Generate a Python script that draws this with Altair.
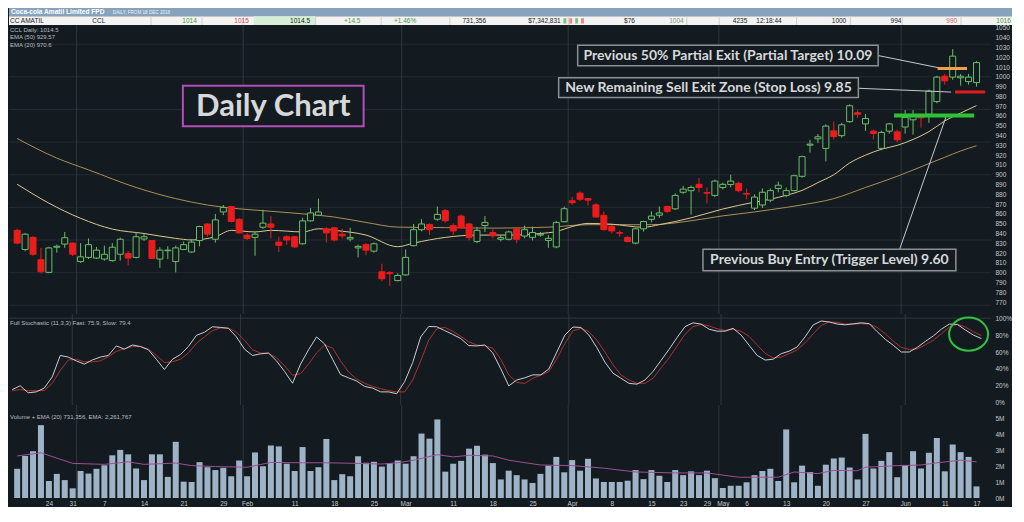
import altair as alt
import numpy as np
import pandas as pd

# ------------------------------------------------------------------
# Values (daily bars 18 Dec 2018 - 17 Jun 2019)
# ------------------------------------------------------------------
opens = [843.2, 823.7, 836.0, 813.3, 800.3, 826.0, 829.2, 830.2, 811.3, 815.6,
         814.9, 813.9, 812.3, 818.8, 819.5, 815.6, 834.4, 832.8, 813.9, 822.4,
         811.3, 823.7, 821.1, 832.8, 849.7, 834.1, 862.0, 867.5, 854.5, 838.3,
         836.0, 846.4, 849.7, 831.2, 836.7, 836.7, 829.5, 852.9, 858.7, 844.8,
         845.8, 839.3, 834.4, 825.3, 828.6, 822.0, 800.9, 800.0, 791.9, 797.7,
         827.6, 843.9, 849.1, 854.6, 863.3, 848.1, 857.8, 849.7, 831.9, 848.1,
         841.0, 834.1, 834.1, 844.8, 837.4, 836.1, 838.4, 832.9, 826.3, 852.0,
         873.4, 881.2, 875.7, 869.2, 858.5, 847.1, 840.9, 836.0, 830.2, 844.8,
         854.5, 858.7, 867.5, 865.2, 882.1, 883.7, 890.2, 881.8, 878.9, 887.0,
         890.0, 891.2, 880.8, 865.9, 869.1, 874.0, 886.0, 878.9, 883.8, 898.4,
         930.2, 936.7, 926.9, 944.8, 939.9, 954.2, 963.3, 951.9, 944.5, 926.9,
         944.5, 943.8, 948.7, 956.1, 959.4, 961.7, 974.7, 1000.6, 999.7, 999.0,
         995.1, 994.1]
highs = [845.0, 840.5, 837.3, 825.3, 826.5, 828.6, 841.5, 830.8, 830.2, 835.0,
         826.3, 827.6, 830.2, 835.7, 822.1, 841.5, 839.9, 833.4, 826.0, 827.0,
         827.6, 831.8, 834.1, 848.0, 850.3, 860.0, 869.1, 868.5, 855.5, 840.6,
         841.5, 864.3, 857.8, 836.7, 838.3, 837.6, 856.2, 865.9, 875.6, 846.4,
         846.4, 844.8, 845.8, 828.6, 830.2, 830.8, 809.1, 801.6, 799.3, 823.7,
         849.7, 854.6, 850.4, 867.6, 865.0, 850.4, 859.5, 851.0, 846.5, 857.8,
         844.8, 838.4, 843.0, 846.0, 848.1, 847.1, 841.6, 838.4, 853.0, 867.6,
         877.3, 883.0, 876.3, 871.0, 862.6, 848.5, 843.2, 837.3, 846.0, 853.0,
         862.6, 867.5, 868.5, 881.0, 888.6, 889.0, 896.7, 887.0, 895.0, 892.0,
         900.0, 893.0, 886.0, 880.0, 886.0, 886.0, 893.0, 887.0, 900.0, 919.5,
         935.7, 941.6, 951.5, 954.3, 953.0, 972.0, 965.9, 962.0, 946.0, 945.0,
         953.0, 946.0, 966.0, 966.0, 962.0, 987.0, 1001.0, 1003.0, 1028.2, 1003.0,
         1003.0, 1016.0]
lows = [829.0, 822.0, 817.2, 799.3, 799.5, 820.4, 825.3, 817.0, 810.0, 813.9,
        813.9, 812.3, 811.3, 812.3, 807.5, 814.6, 832.5, 813.9, 804.9, 813.9,
        800.3, 823.0, 820.4, 826.9, 836.7, 830.8, 858.7, 851.3, 839.9, 833.4,
        817.2, 844.8, 835.0, 821.1, 828.6, 825.3, 828.6, 852.2, 857.8, 830.8,
        831.8, 835.0, 831.8, 815.6, 817.8, 820.4, 791.2, 786.4, 791.2, 797.0,
        826.9, 842.2, 838.4, 853.0, 851.0, 838.4, 844.8, 833.0, 830.2, 841.6,
        835.1, 831.9, 833.0, 830.2, 835.1, 832.9, 836.7, 825.4, 825.0, 851.3,
        869.2, 873.0, 868.5, 856.0, 843.0, 840.0, 836.7, 831.0, 829.0, 842.0,
        851.3, 856.0, 861.0, 864.0, 880.5, 859.4, 882.1, 870.8, 877.0, 885.0,
        887.0, 882.0, 875.0, 864.0, 866.0, 872.0, 882.0, 877.0, 883.0, 897.0,
        922.7, 932.5, 913.6, 936.0, 938.0, 953.0, 958.0, 944.8, 936.0, 925.0,
        942.0, 933.0, 942.0, 941.0, 948.0, 953.0, 973.0, 992.0, 997.0, 991.0,
        992.0, 990.0]
closes = [830.2, 839.3, 818.8, 801.0, 825.3, 827.0, 835.7, 818.8, 816.2, 828.6,
          823.0, 818.8, 826.0, 834.1, 814.9, 836.7, 836.7, 814.6, 823.0, 823.0,
          825.3, 828.6, 831.2, 847.1, 839.3, 853.9, 866.5, 852.3, 840.6, 835.0,
          839.3, 850.6, 846.4, 827.9, 833.4, 826.3, 852.9, 861.0, 862.0, 840.6,
          833.4, 837.6, 836.0, 826.9, 823.0, 829.5, 793.8, 799.0, 797.1, 815.6,
          843.9, 849.7, 843.9, 859.5, 853.0, 842.6, 845.8, 835.8, 843.2, 851.3,
          837.7, 835.8, 841.6, 834.1, 843.9, 841.0, 839.3, 835.1, 851.3, 865.3,
          871.5, 875.0, 874.1, 856.9, 843.9, 842.6, 840.3, 831.8, 844.8, 852.2,
          857.8, 861.0, 862.6, 878.9, 885.3, 887.0, 887.0, 881.2, 893.5, 890.2,
          893.5, 883.7, 880.2, 877.2, 882.1, 883.8, 889.3, 883.8, 899.0, 918.5,
          931.2, 938.7, 949.7, 939.0, 951.0, 970.4, 961.7, 957.4, 942.2, 943.2,
          951.9, 935.7, 958.4, 960.0, 958.1, 985.4, 999.7, 995.8, 1021.1, 1000.6,
          999.7, 1014.5]

# volume in millions of shares
volume_m = [1.84, 2.65, 2.95, 4.59, 1.07, 1.52, 1.13, 0.61, 1.70, 1.54,
            1.84, 2.06, 2.69, 3.03, 2.75, 1.86, 1.13, 2.75, 2.75, 1.33,
            3.54, 1.03, 1.01, 2.26, 1.94, 1.76, 1.90, 1.37, 2.36, 1.37,
            2.87, 2.00, 3.31, 3.25, 2.16, 1.70, 3.21, 1.70, 1.94, 3.72,
            1.13, 1.50, 1.37, 2.63, 2.22, 2.28, 1.98, 2.20, 2.36, 2.16,
            2.63, 4.06, 3.74, 4.95, 1.66, 2.16, 2.34, 3.11, 3.29, 2.73,
            2.20, 1.17, 1.72, 1.44, 1.17, 0.95, 1.52, 2.04, 2.59, 1.62,
            2.39, 1.72, 2.47, 1.23, 1.01, 1.01, 1.01, 1.09, 1.76, 1.19,
            1.76, 1.40, 1.01, 1.76, 1.44, 1.68, 1.44, 1.72, 1.25, 0.63,
            0.77, 0.77, 0.99, 1.44, 1.70, 1.84, 1.07, 4.32, 0.99, 2.04,
            1.64, 0.77, 2.10, 2.49, 2.55, 1.92, 1.17, 4.04, 1.86, 2.34,
            2.89, 1.31, 2.08, 2.95, 1.86, 2.85, 3.78, 1.68, 3.37, 2.89,
            2.59, 0.73]

stoch_fast = [15.6, 20.1, 11.8, 12.9, 17.4, 30.6, 55.9, 54.0, 49.5, 45.7,
              50.6, 54.0, 55.9, 67.2, 63.4, 68.3, 66.5, 62.7, 51.4, 39.3,
              51.4, 57.0, 66.5, 79.7, 83.4, 89.8, 89.1, 88.0, 77.8, 63.4,
              55.9, 57.8, 58.9, 49.5, 37.1, 23.1, 45.7, 62.7, 77.8, 69.5,
              51.4, 33.3, 29.5, 25.7, 19.3, 17.4, 12.9, 12.9, 10.7, 25.0,
              47.6, 77.8, 90.2, 89.8, 85.3, 80.8, 75.9, 67.6, 67.2, 68.3,
              58.9, 40.1, 20.0, 27.0, 29.5, 33.0, 33.0, 40.0, 60.0, 80.0,
              89.5, 89.0, 80.0, 65.0, 48.0, 35.0, 29.0, 23.0, 22.0, 27.0,
              37.0, 50.0, 63.0, 77.0, 90.0, 94.5, 93.0, 87.0, 84.6, 84.6,
              88.0, 80.0, 68.0, 56.0, 50.5, 51.5, 58.0, 61.0, 66.0, 78.0,
              92.0, 96.6, 95.5, 93.0, 92.1, 93.3, 94.5, 93.5, 84.0, 75.0,
              68.0, 60.0, 60.0, 65.5, 72.5, 79.0, 87.0, 93.0, 92.5, 86.0,
              80.0, 75.9]
stoch_slow = [14.4, 15.6, 14.4, 14.4, 14.4, 23.1, 38.2, 50.6, 51.4, 48.4,
              48.4, 49.5, 54.4, 60.8, 63.8, 66.5, 66.5, 63.4, 55.9, 47.6,
              48.4, 51.4, 58.9, 70.2, 77.8, 85.3, 88.3, 88.3, 83.4, 74.0,
              62.7, 58.9, 58.2, 53.3, 43.8, 32.5, 34.4, 45.7, 58.9, 68.3,
              64.6, 49.5, 36.3, 28.0, 23.1, 19.3, 16.7, 14.4, 12.9, 12.9,
              26.9, 49.5, 74.0, 87.2, 89.1, 84.6, 78.5, 72.1, 68.3, 67.2,
              64.6, 51.4, 33.0, 24.0, 23.0, 29.0, 32.5, 37.0, 52.0, 70.0,
              85.0, 88.0, 84.0, 74.0, 60.0, 45.0, 33.0, 27.0, 23.0, 23.0,
              29.0, 41.0, 53.0, 67.0, 81.0, 90.0, 92.5, 91.0, 87.5, 85.5,
              86.8, 84.5, 78.5, 68.5, 58.5, 53.0, 54.0, 58.0, 62.5, 71.0,
              81.5, 91.5, 95.5, 95.0, 93.0, 92.9, 93.4, 93.0, 89.0, 81.5,
              73.0, 65.5, 63.0, 63.8, 68.5, 74.0, 81.5, 89.5, 92.9, 89.5,
              84.0, 79.4]

ema50_at = [0, 5, 9, 15, 20, 24, 28, 32, 36, 40, 44, 48, 54, 60, 67, 72, 76, 80, 85, 89,
            93, 95, 99, 103, 107, 111, 115, 117, 119, 121]
ema50_val = [937, 917, 905, 887, 875.6, 869.1, 865.2, 862.7, 860.1, 856.8, 851.3, 846.5, 846,
             845.5, 846.5, 849, 849, 849, 853, 858, 862, 864.3, 869.2, 875.6, 887, 898.4,
             911.4, 917.8, 924.3, 929.6]
ema20_at = [0, 4, 8, 12, 16, 20, 22, 25, 27, 30, 32, 36, 38, 40, 44, 48, 50, 54, 58, 62,
            66, 68, 70, 72, 75, 79, 81, 85, 89, 93, 95, 97, 99, 101, 103, 105, 107, 109,
            111, 113, 115, 117, 119, 121]
ema20_val = [890.3, 871, 855.5, 844.5, 840, 835, 833.4, 836.7, 843.2, 841.6, 843.2, 841.6,
             844.8, 843.2, 838.4, 826.5, 830.2, 836, 838.4, 838.4, 840, 842, 847.1, 850.3,
             849.5, 846.4, 849, 856, 865, 872, 875, 879, 884, 892, 900, 912, 920, 926, 930,
             936, 944, 955, 963, 970.6]
vol_ema_at = [0, 3, 7, 11, 14, 16, 20, 22, 25, 29, 32, 36, 39, 43, 46, 48, 50, 53, 55, 57,
              60, 62, 66, 70, 74, 78, 83, 87, 91, 96, 98, 101, 103, 106, 107, 111, 114, 116,
              119, 121]
vol_ema_val = [2.65, 2.85, 2.18, 2.12, 2.28, 2.12, 2.2, 2.04, 1.98, 1.94, 2.24, 2.22, 2.22,
               2.18, 2.14, 2.22, 2.38, 2.73, 2.59, 2.69, 2.65, 2.38, 2.08, 2.04, 1.88, 1.64,
               1.58, 1.58, 1.31, 1.31, 1.64, 1.54, 1.74, 1.72, 1.94, 2.04, 2.08, 2.22, 2.38,
               2.28]

tick_at = [4, 7, 11, 16, 21, 26, 29, 35, 40, 45, 49, 55, 60, 65, 70, 75, 80, 84, 87, 89,
           92, 97, 102, 107, 112, 117, 121]
tick_text = ["24", "31", "7", "14", "21", "29", "Feb", "11", "18", "25", "Mar", "11", "18",
             "25", "Apr", "8", "15", "23", "29", "May", "6", "13", "20", "27", "Jun", "11", "17"]
month_first_bar = [8, 29, 49, 70, 89, 112]
price_ticks = list(range(770, 1051, 10))
price_grid = [766.7, 800, 833.3, 866.7, 900, 933.3, 966.7, 1000, 1033.3]
stoch_ticks = [0, 20, 40, 60, 80, 100]
vol_ticks = [0, 1, 2, 3, 4, 5]

quote_fields = ["CC AMATIL", "CCL", "1014", "1015", "1014.5", "+14.5", "+1.46%", "731,356",
                "$7,342,831", "$76", "1004", "4235", "12:18:44", "1000", "994", "990", "1016"]
title_text = "Coca-cola Amatil Limited FPD"
subtitle_text = "DAILY, FROM 18 DEC 2018"
info_text = "CCL Daily: 1014.5\nEMA (50) 929.57\nEMA (20) 970.6"
stoch_text = "Full Stochastic (11,3,3) Fast: 75.9, Slow: 79.4"
vol_text = "Volume + EMA (20) 731,356, EMA: 2,261,767"
note_daily = "Daily Chart"
note_target = "Previous 50% Partial Exit (Partial Target) 10.09"
note_stop = "New Remaining Sell Exit Zone (Stop Loss) 9.85"
note_entry = "Previous Buy Entry (Trigger Level) 9.60"
level_target = 1008.5
level_stop = 984.5
level_entry = 960.4

# ------------------------------------------------------------------
# Styles and layout
# ------------------------------------------------------------------
BG = "#141b20"
GRID = "#222b31"
GRID_M = "#2e373d"
UP = "#6abd68"
DOWN = "#ec1c1c"
EMA50C = "#a88f58"
EMA20C = "#d8c98e"
FASTC = "#c9cdd0"
SLOWC = "#b0302c"
VOLC = "#9fb3c6"
VOLEMAC = "#9c4f94"
AXC = "#c4c8cc"
TXT = "#d6d8da"
SMALLTXT = "#b8bcc0"
BOXC = "#8c9094"
PURPLE = "#b24fb8"
SMALL = "Liberation Sans"
BIG = "Lato"

W = 982
H_HEAD = 17
H_PRICE = 289
H_STOCH = 91
H_VOL = 93

XS = alt.Scale(domain=[-0.4, 122.2], nice=False, zero=False)
PY = alt.Scale(domain=[757.8, 1052.9], nice=False, zero=False)
SY = alt.Scale(domain=[-2.6, 104.9], nice=False, zero=False)
VY = alt.Scale(domain=[0, 5.86], nice=False, zero=False)


def right_axis(values, expr=None):
    kw = dict(orient="right", values=values, labelColor=AXC, labelFontSize=6.5,
              labelFont=SMALL, domain=False, ticks=False, grid=False, labelPadding=4,
              labelOverlap=False, title=None, labelFlush=False)
    if expr:
        kw["labelExpr"] = expr
    else:
        kw["format"] = "d"
    return alt.Axis(**kw)


PAX = right_axis(price_ticks)
SAX = right_axis(stoch_ticks, "datum.value + '%'")
VAX = right_axis(vol_ticks, "datum.value + 'M'")
label_list = "[" + ",".join("'%s'" % t for t in tick_text) + "]"
at_list = "[" + ",".join(str(t) for t in tick_at) + "]"
VXAX = alt.Axis(orient="bottom", values=tick_at,
                labelExpr=f"{label_list}[indexof({at_list}, datum.value)]",
                labelColor=AXC, labelFontSize=6.5, labelFont=SMALL, domain=False,
                ticks=False, grid=False, labelPadding=2, labelOverlap=False,
                labelFlush=False, title=None)

n = len(closes)
candles = pd.DataFrame({"i": np.arange(n), "o": opens, "h": highs, "l": lows, "c": closes})
candles["dir"] = np.where(candles["c"] >= candles["o"], "up", "down")
months = pd.DataFrame({"m": np.array(month_first_bar) - 0.5})


def X(field, axis=None):
    return alt.X(f"{field}:Q", scale=XS, axis=axis, title=None)


def Yp(field):
    return alt.Y(f"{field}:Q", scale=PY, axis=PAX, title=None)


# ---------------- price panel ----------------
hgrid = alt.Chart(pd.DataFrame({"p": price_grid})).mark_rule(color=GRID, strokeWidth=1).encode(y=Yp("p"))
vgrid_p = alt.Chart(months).mark_rule(color=GRID_M, strokeWidth=1).encode(x=X("m"))

ema50 = alt.Chart(pd.DataFrame({"i": ema50_at, "v": ema50_val})).mark_line(
    color=EMA50C, strokeWidth=1, interpolate="monotone").encode(x=X("i"), y=Yp("v"))
ema20 = alt.Chart(pd.DataFrame({"i": ema20_at, "v": ema20_val})).mark_line(
    color=EMA20C, strokeWidth=1, interpolate="monotone").encode(x=X("i"), y=Yp("v"))

dir_dom = ["up", "down"]
wicks = alt.Chart(candles).mark_rule(strokeWidth=1).encode(
    x=X("i"), y=Yp("l"), y2="h",
    color=alt.Color("dir:N", scale=alt.Scale(domain=dir_dom, range=[UP, DOWN]), legend=None))
bodies = alt.Chart(candles).mark_bar(size=6, strokeWidth=1).encode(
    x=X("i"), y=Yp("o"), y2="c",
    fill=alt.Fill("dir:N", scale=alt.Scale(domain=dir_dom, range=[BG, DOWN]), legend=None),
    stroke=alt.Stroke("dir:N", scale=alt.Scale(domain=dir_dom, range=[UP, DOWN]), legend=None))


def seg(x1, x2, y1, y2, color, width):
    df = pd.DataFrame({"x1": [x1], "x2": [x2], "y1": [y1], "y2": [y2]})
    return alt.Chart(df).mark_rule(color=color, strokeWidth=width).encode(
        x=X("x1"), x2="x2", y=Yp("y1"), y2="y2")


def level(x1, x2, y, color, width):
    df = pd.DataFrame({"x1": [x1], "x2": [x2], "y": [y]})
    return alt.Chart(df).mark_rule(color=color, strokeWidth=width).encode(
        x=X("x1"), x2="x2", y=Yp("y"))


def box(x1, x2, y1, y2, stroke, sw):
    df = pd.DataFrame({"x1": [x1], "x2": [x2], "y1": [y1], "y2": [y2]})
    return alt.Chart(df).mark_rect(fill=BG, stroke=stroke, strokeWidth=sw).encode(
        x=X("x1"), x2="x2", y=Yp("y1"), y2="y2")


def label(xc, yc, text, size):
    df = pd.DataFrame({"x": [xc], "y": [yc], "t": [text]})
    return alt.Chart(df).mark_text(font=BIG, fontWeight="bold", fontSize=size, color=TXT,
                                   align="center", baseline="middle").encode(
        x=X("x"), y=Yp("y"), text="t:N")


lines_lvl = [
    level(116.1, 119.8, level_target, "#f0a048", 3),
    level(118.3, 122.1, level_stop, "#e3191b", 3),
    level(110.6, 120.7, level_entry, "#2ec236", 4),
]
leaders = [
    seg(108.6, 116.2, 1021.7, 1009.3, "#c4c8cc", 1),
    seg(106.1, 117.8, 988.3, 984.4, "#c4c8cc", 1),
    seg(111.3, 117.2, 823.8, 960.1, "#c4c8cc", 1),
]
boxes = [
    box(20.9, 43.7, 949.4, 990.8, PURPLE, 2),
    label(32.3, 969.6, note_daily, 31),
    box(70.7, 108.6, 1011.3, 1032.1, BOXC, 1.5),
    label(89.65, 1021.5, note_target, 14),
    box(68.3, 106.1, 978.9, 999.0, BOXC, 1.5),
    label(87.2, 988.8, note_stop, 14),
    box(86.5, 118.4, 802.0, 823.8, BOXC, 1.5),
    label(102.45, 812.7, note_entry, 14),
]
info = alt.Chart(pd.DataFrame({"t": [info_text]})).mark_text(
    font=SMALL, fontSize=6, color=SMALLTXT, align="left", baseline="top",
    lineBreak="\n", lineHeight=7.6).encode(x=alt.value(1), y=alt.value(1.5), text="t:N")

price = alt.layer(hgrid, vgrid_p, ema50, ema20, wicks, bodies, *leaders, *lines_lvl,
                  *boxes, info).properties(width=W, height=H_PRICE)

# ---------------- stochastic panel ----------------
stoch_df = pd.DataFrame({"i": np.arange(n), "fast": stoch_fast, "slow": stoch_slow})


def Ys(field):
    return alt.Y(f"{field}:Q", scale=SY, axis=SAX, title=None)


s_grid = alt.Chart(pd.DataFrame({"s": [100]})).mark_rule(color=GRID_M, strokeWidth=1).encode(y=Ys("s"))
s_vgrid = alt.Chart(months).mark_rule(color=GRID_M, strokeWidth=1).encode(x=X("m"))
slow_line = alt.Chart(stoch_df).mark_line(color=SLOWC, strokeWidth=1).encode(x=X("i"), y=Ys("slow"))
fast_line = alt.Chart(stoch_df).mark_line(color=FASTC, strokeWidth=1).encode(x=X("i"), y=Ys("fast"))
ELLIPSE = "M-1,0A1,0.85,0,1,1,1,0A1,0.85,0,1,1,-1,0Z"
ring = alt.Chart(pd.DataFrame({"i": [119.4], "s": [81.1]})).mark_point(
    shape=ELLIPSE, size=1521, filled=False, strokeWidth=2, color="#2fc23f", opacity=1).encode(
    x=X("i"), y=Ys("s"))
s_label = alt.Chart(pd.DataFrame({"t": [stoch_text]})).mark_text(
    font=SMALL, fontSize=6, color=SMALLTXT, align="left", baseline="middle").encode(
    x=alt.value(1), y=alt.value(8.5), text="t:N")
stoch = alt.layer(s_grid, s_vgrid, slow_line, fast_line, ring, s_label).properties(
    width=W, height=H_STOCH)

# ---------------- volume panel ----------------
vol_df = pd.DataFrame({"i": np.arange(n), "v": volume_m})


def Yv(field):
    return alt.Y(f"{field}:Q", scale=VY, axis=VAX, title=None)


v_vgrid = alt.Chart(months).mark_rule(color=GRID_M, strokeWidth=1).encode(x=X("m", VXAX))
v_bars = alt.Chart(vol_df).mark_bar(size=6, color=VOLC).encode(x=X("i", VXAX), y=Yv("v"))
v_ema = alt.Chart(pd.DataFrame({"i": vol_ema_at, "v": vol_ema_val})).mark_line(
    color=VOLEMAC, strokeWidth=1).encode(x=X("i", VXAX), y=Yv("v"))
v_label = alt.Chart(pd.DataFrame({"t": [vol_text]})).mark_text(
    font=SMALL, fontSize=6, color=SMALLTXT, align="left", baseline="middle").encode(
    x=alt.value(1), y=alt.value(11.5), text="t:N")
volume = alt.layer(v_vgrid, v_bars, v_ema, v_label).properties(width=W, height=H_VOL)

# ---------------- header (title bar + quote row) ----------------
HX = alt.Scale(domain=[0, 1024], nice=False, zero=False)
HY = alt.Scale(domain=[0, 17.5], nice=False, zero=False, reverse=True)
head_rects = pd.DataFrame({
    "x1": [0, 0, 250, 566, 572, 578, 584],
    "x2": [1024, 1024, 313, 569, 575, 581, 587],
    "y1": [0, 8.5, 8.5, 10.5, 10.5, 10.5, 10.5],
    "y2": [8.5, 17.5, 17.5, 16, 16, 16, 16],
    "f": ["#87a2bd", "#f3f3f3", "#d5eed5", "#7cc47c", "#e58a8a", "#7cc47c", "#e58a8a"],
})
hr = alt.Chart(head_rects).mark_rect().encode(
    x=alt.X("x1:Q", scale=HX, axis=None), x2="x2",
    y=alt.Y("y1:Q", scale=HY, axis=None), y2="y2",
    fill=alt.Fill("f:N", scale=None))
seps = alt.Chart(pd.DataFrame({"x": [145, 197, 239, 313, 380, 450, 571, 692, 725, 804, 859, 912, 972]})).mark_rule(
    color="#cfcfcf", strokeWidth=1).encode(
    x=alt.X("x:Q", scale=HX, axis=None),
    y=alt.Y("a:Q", scale=HY, axis=None), y2="b:Q").transform_calculate(a="8.5", b="17.5")
quote_x = [1, 85, 177, 230, 287, 342, 393, 463, 530, 628, 674, 739, 763, 840, 900, 957, 1008]
quote_color = ["#222222", "#222222", "#3c9a3c", "#cc4a4a", "#222222", "#3c9a3c", "#3c9a3c",
               "#222222", "#222222", "#222222", "#7c9a7c", "#222222", "#222222", "#222222",
               "#222222", "#d06060", "#3c9a3c"]
qdf = pd.DataFrame({"x": quote_x, "t": quote_fields, "c": quote_color, "y": 13.1})
qt = alt.Chart(qdf).mark_text(font=SMALL, fontSize=6.5, align="left", baseline="middle").encode(
    x=alt.X("x:Q", scale=HX, axis=None), y=alt.Y("y:Q", scale=HY, axis=None),
    text="t:N", color=alt.Color("c:N", scale=None))
tdf = pd.DataFrame({"x": [2], "y": [4.4], "t": [title_text]})
tt = alt.Chart(tdf).mark_text(font=SMALL, fontSize=6.6, fontWeight="bold", color="white",
                              align="left", baseline="middle").encode(
    x=alt.X("x:Q", scale=HX, axis=None), y=alt.Y("y:Q", scale=HY, axis=None), text="t:N")
sdf = pd.DataFrame({"x": [106], "y": [4.8], "t": [subtitle_text]})
st = alt.Chart(sdf).mark_text(font=SMALL, fontSize=4.6, color="#eef2f6",
                              align="left", baseline="middle").encode(
    x=alt.X("x:Q", scale=HX, axis=None), y=alt.Y("y:Q", scale=HY, axis=None), text="t:N")
header = alt.layer(hr, seps, qt, tt, st).properties(width=1003, height=H_HEAD)

chart = alt.vconcat(header, price, stoch, volume, spacing=0, bounds="flush", padding=0).configure(
    background=BG).configure_view(strokeWidth=0)

chart.save("out.html", embed_options={"renderer": "svg", "actions": False})
